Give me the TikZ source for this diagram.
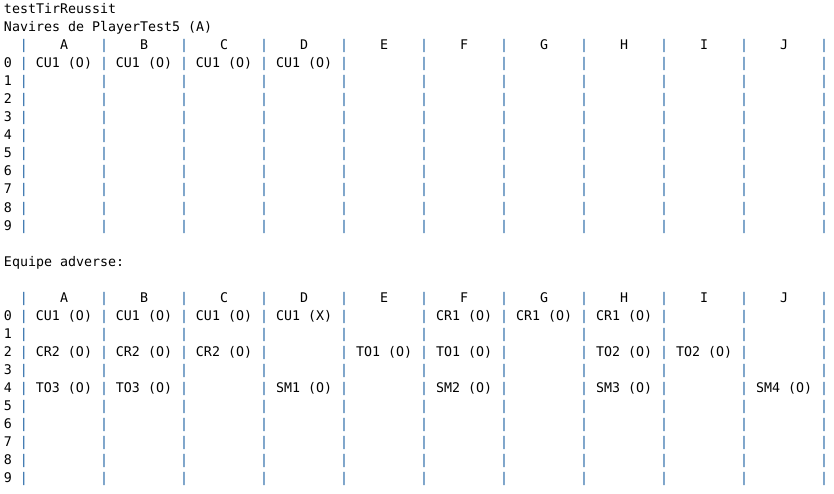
\documentclass[tikz,border=0pt]{standalone}
\usepackage{fontspec}
\setmonofont{DejaVu Sans Mono}
\usepackage{xcolor}
\definecolor{pipeblue}{RGB}{28,96,162}
\tikzset{
    common/.style={inner sep=0pt, outer sep=0pt},
    line/.style={common, anchor=base west},
    cell/.style={common, anchor=base},
    bar/.style={cell, text=pipeblue}
}

\begin{document}
\begin{tikzpicture}[x=1pt, y=-1pt, font=\ttfamily\fontsize{13.29pt}{18pt}\selectfont]
  \useasboundingbox (0,0) rectangle (834,494);

  \node[line] (title) at (4,14) {testTirReussit};
  \node[line] (own-title) at (4,32) {Navires de PlayerTest5 (A)};

  % own board
  \foreach \l [count=\c from 0] in {A,B,C,D,E,F,G,H,I,J}
    \node[cell] (own-head-\c) at ({64+80*\c},50) {\l};
  \foreach \r in {0,...,9}
    \node[cell] (own-row-\r) at (8,{68+18*\r}) {\r};
  \foreach \r in {-1,...,9}
    \foreach \c in {0,...,10}
      \node[bar] (own-bar-\r-\c) at ({24+80*\c},{68+18*\r}) {|};
  \foreach \c in {0,...,3}
    \node[cell] (own-ship-\c) at ({64+80*\c},68) {CU1 (O)};

  \node[line] (foe-title) at (4,266) {Equipe adverse:};

  % enemy board
  \foreach \l [count=\c from 0] in {A,B,C,D,E,F,G,H,I,J}
    \node[cell] (foe-head-\c) at ({64+80*\c},302) {\l};
  \foreach \r in {0,...,9}
    \node[cell] (foe-row-\r) at (8,{320+18*\r}) {\r};
  \foreach \r in {-1,...,9}
    \foreach \c in {0,...,10}
      \node[bar] (foe-bar-\r-\c) at ({24+80*\c},{320+18*\r}) {|};
  \foreach \c/\r/\s in {0/0/CU1 (O), 1/0/CU1 (O), 2/0/CU1 (O), 3/0/CU1 (X),
                        5/0/CR1 (O), 6/0/CR1 (O), 7/0/CR1 (O),
                        0/2/CR2 (O), 1/2/CR2 (O), 2/2/CR2 (O), 4/2/TO1 (O),
                        5/2/TO1 (O), 7/2/TO2 (O), 8/2/TO2 (O),
                        0/4/TO3 (O), 1/4/TO3 (O), 3/4/SM1 (O), 5/4/SM2 (O),
                        7/4/SM3 (O), 9/4/SM4 (O)}
    \node[cell] (foe-ship-\c-\r) at ({64+80*\c},{320+18*\r}) {\s};
\end{tikzpicture}
\end{document}
